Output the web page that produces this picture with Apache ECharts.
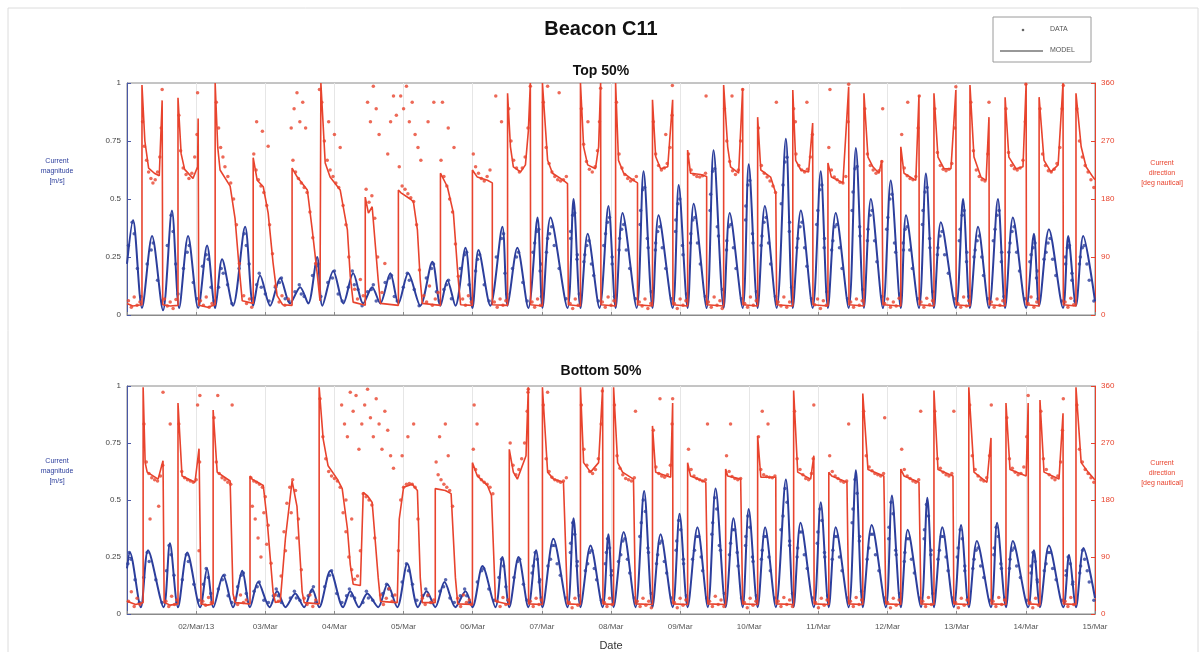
<!DOCTYPE html>
<html><head><meta charset="utf-8">
<script src="https://cdn.jsdelivr.net/npm/echarts@6/dist/echarts.min.js"></script>
<style>html,body{margin:0;padding:0;background:#fff}#c{width:1202px;height:652px}</style>
</head><body><div id="c"></div>
<script>
// x values are hours since 01/Mar/13 00:00
const dayLabels = ['', '02/Mar/13', '03/Mar', '04/Mar', '05/Mar', '06/Mar', '07/Mar', '08/Mar', '09/Mar', '10/Mar', '11/Mar', '12/Mar', '13/Mar', '14/Mar', '15/Mar'];
const magLabels = ['0', '0.25', '0.5', '0.75', '1'];
const dirLabels = ['0', '90', '180', '270', '360'];

// ---------- TOP 50% ----------
const topMagModel = [[0,0.22],[2.1,0.41],[5.2,0.03],[8.7,0.34],[12.5,0.02],[15.6,0.45],[18.1,0.03],[21.2,0.34],[24.7,0.03],[27.8,0.30],[30.6,0.03],[33,0.24],[36.8,0.04],[41,0.38],[43.8,0.04],[46.2,0.17],[49.7,0.04],[53.2,0.16],[56.6,0.05],[60.1,0.12],[62.9,0.05],[66,0.25],[67.8,0.04],[71.6,0.19],[75.1,0.05],[78.5,0.18],[82,0.05],[85.1,0.12],[87.9,0.05],[91.4,0.18],[94.2,0.05],[97.6,0.18],[101.8,0.04],[106,0.23],[108.8,0.04],[111.2,0.15],[114,0.04],[117.5,0.29],[119.9,0.03],[122,0.28],[126.1,0.04],[130.3,0.38],[132.1,0.04],[135.5,0.29],[139.3,0.03],[142.5,0.42],[144.2,0.03],[147,0.42],[152.9,0.03],[155,0.5],[157.4,0.03],[159.9,0.35],[164,0.03],[167.1,0.47],[169.6,0.03],[172,0.44],[176.9,0.03],[179.3,0.62],[182.4,0.03],[184.5,0.43],[189.4,0.03],[191.5,0.56],[194.6,0.03],[196.7,0.48],[201.2,0.03],[203.6,0.71],[207.1,0.03],[209.2,0.44],[213.7,0.03],[215.8,0.65],[218.9,0.03],[221.4,0.47],[225.5,0.03],[228.7,0.76],[231.1,0.03],[233.9,0.45],[238,0.03],[240.8,0.62],[243.3,0.03],[246,0.44],[250.5,0.03],[253,0.72],[255.8,0.03],[258.2,0.5],[262.4,0.03],[265.1,0.58],[268.6,0.03],[270.4,0.43],[274.9,0.03],[277.3,0.61],[280.1,0.03],[282.5,0.4],[287.7,0.03],[290.2,0.5],[292.6,0.03],[295.4,0.38],[299.2,0.03],[302.3,0.5],[304.8,0.03],[307.5,0.42],[312.1,0.03],[314.8,0.35],[316.6,0.04],[320,0.37],[324.9,0.03],[326.7,0.34],[329.4,0.04],[331.9,0.34],[336,0.06]];

const topMagData = [[0.5,0.3],[1.8,0.4],[2.5,0.35],[3.6,0.2],[4.8,0.08],[7,0.22],[8.4,0.28],[9.1,0.31],[10.6,0.15],[12.1,0.06],[14,0.3],[15.3,0.43],[16,0.36],[16.9,0.22],[17.7,0.09],[19.6,0.2],[20.9,0.27],[21.6,0.3],[23,0.14],[24.3,0.07],[26.2,0.21],[27.5,0.26],[28.2,0.24],[29.2,0.12],[30.2,0.06],[31.8,0.12],[32.7,0.2],[33.4,0.18],[34.9,0.13],[36.4,0.05],[38.9,0.2],[40.7,0.35],[41.4,0.3],[42.4,0.22],[43.4,0.07],[45,0.13],[45.9,0.18],[46.6,0.12],[48,0.09],[49.3,0.06],[51.5,0.12],[52.9,0.14],[53.6,0.16],[54.9,0.07],[56.2,0.06],[58.3,0.1],[59.8,0.13],[60.5,0.09],[61.5,0.08],[64.4,0.17],[65.7,0.21],[66.4,0.22],[67.3,0.08],[69.7,0.14],[71.3,0.16],[72,0.19],[73.3,0.09],[74.7,0.06],[76.8,0.12],[78.2,0.19],[78.9,0.13],[80.2,0.11],[81.6,0.04],[83.5,0.1],[84.8,0.11],[85.5,0.13],[86.5,0.06],[89.6,0.14],[91.1,0.16],[91.8,0.17],[92.8,0.08],[93.8,0.06],[95.9,0.12],[97.3,0.18],[98,0.15],[99.7,0.11],[101.4,0.04],[103.9,0.16],[105.7,0.2],[106.4,0.22],[107.4,0.1],[108.4,0.06],[110,0.11],[110.9,0.13],[111.6,0.15],[112.6,0.07],[115.7,0.2],[117.2,0.26],[117.9,0.27],[118.7,0.13],[119.5,0.07],[121,0.19],[121.7,0.24],[122.4,0.26],[124,0.13],[125.7,0.06],[128.2,0.25],[130,0.33],[130.7,0.35],[131.2,0.18],[131.8,0.09],[133.8,0.2],[135.2,0.25],[135.9,0.27],[137.4,0.14],[138.9,0.06],[140.9,0.27],[142.2,0.36],[142.9,0.37],[143.4,0.19],[143.9,0.08],[145.6,0.27],[146.7,0.35],[147.4,0.38],[150,0.2],[152.4,0.07],[154,0.33],[154.7,0.43],[155.4,0.44],[156.2,0.24],[157,0.09],[158.6,0.23],[159.6,0.3],[160.3,0.32],[162,0.17],[163.6,0.06],[165.5,0.3],[166.8,0.4],[167.5,0.42],[168.4,0.22],[169.2,0.08],[170.8,0.28],[171.7,0.37],[172.4,0.39],[174.5,0.2],[176.5,0.07],[178.1,0.39],[179,0.54],[179.7,0.55],[180.9,0.29],[182,0.1],[183.4,0.28],[184.2,0.36],[184.9,0.38],[187,0.2],[189,0.07],[190.4,0.36],[191.2,0.48],[191.9,0.5],[193,0.26],[194.2,0.09],[195.6,0.31],[196.4,0.41],[197.1,0.42],[199,0.22],[200.8,0.08],[202.4,0.45],[203.3,0.62],[204,0.63],[205.3,0.34],[206.7,0.11],[208.1,0.28],[208.9,0.38],[209.6,0.39],[211.4,0.2],[213.3,0.07],[214.7,0.41],[215.5,0.56],[216.2,0.58],[217.3,0.31],[218.5,0.1],[220.1,0.3],[221.1,0.4],[221.8,0.42],[223.4,0.22],[225.1,0.08],[227.1,0.48],[228.4,0.66],[229.1,0.68],[229.9,0.36],[230.7,0.12],[232.5,0.29],[233.6,0.38],[234.3,0.4],[236,0.21],[237.6,0.07],[239.4,0.39],[240.5,0.54],[241.2,0.56],[242,0.29],[242.9,0.1],[244.6,0.28],[245.7,0.38],[246.4,0.39],[248.2,0.2],[250.1,0.07],[251.7,0.45],[252.7,0.63],[253.4,0.64],[254.4,0.34],[255.4,0.11],[257,0.32],[257.9,0.43],[258.6,0.45],[260.3,0.23],[262,0.08],[263.7,0.37],[264.8,0.5],[265.5,0.52],[266.8,0.27],[268.2,0.09],[269.5,0.28],[270.1,0.37],[270.8,0.38],[272.6,0.2],[274.5,0.07],[276.1,0.39],[277,0.53],[277.7,0.55],[278.7,0.29],[279.7,0.1],[281.3,0.26],[282.2,0.34],[282.9,0.36],[285.1,0.18],[287.3,0.07],[288.9,0.32],[289.9,0.43],[290.6,0.45],[291.4,0.23],[292.2,0.08],[294,0.25],[295.1,0.32],[295.8,0.34],[297.3,0.17],[298.8,0.07],[300.7,0.32],[302,0.43],[302.7,0.45],[303.5,0.23],[304.4,0.08],[306.1,0.27],[307.2,0.36],[307.9,0.38],[309.8,0.19],[311.7,0.07],[313.4,0.23],[314.5,0.29],[315.2,0.31],[315.7,0.16],[316.2,0.07],[318.3,0.24],[319.7,0.31],[320.4,0.33],[322.4,0.17],[324.5,0.06],[325.8,0.22],[326.4,0.29],[327.1,0.3],[328,0.15],[329,0.06],[330.6,0.22],[331.6,0.29],[332.3,0.3],[334,0.15],[335.6,0.06],
[141.5,0.31],[143.8,0.22],[146,0.33],[148.3,0.3],[154,0.36],[156.3,0.26],[158.9,0.26],[161.2,0.22],[166.1,0.35],[168.4,0.25],[171,0.33],[173.3,0.28],[178.3,0.45],[180.6,0.33],[183.5,0.31],[185.8,0.29],[190.5,0.41],[192.8,0.3],[195.7,0.35],[198,0.31],[202.6,0.52],[204.9,0.38],[208.2,0.32],[210.5,0.29],[214.8,0.47],[217.1,0.35],[220.4,0.34],[222.7,0.31],[227.7,0.56],[230,0.4],[232.9,0.33],[235.2,0.29],[239.8,0.45],[242.1,0.33],[245,0.32],[247.3,0.29],[252,0.53],[254.3,0.38],[257.2,0.37],[259.5,0.32],[264.1,0.42],[266.4,0.31],[269.4,0.31],[271.7,0.28],[276.3,0.45],[278.6,0.33],[281.5,0.29],[283.8,0.26],[289.2,0.37],[291.5,0.27],[294.4,0.28],[296.7,0.25],[301.3,0.37],[303.6,0.27],[306.5,0.31],[308.8,0.27],[313.8,0.26],[316,0.19],[319,0.27],[321.3,0.24],[325.7,0.25],[328,0.18],[330.9,0.25],[333.2,0.22]];

const topDirModel = [[0,18],[2,14],[5.2,16],[5.2,357],[6.2,270],[7.5,228],[9.5,220],[11.2,216],[12.2,333],[12.4,16],[15,14],[17.7,15],[17.7,337],[18.8,250],[20,226],[22.9,212],[24.5,230],[24.7,305],[24.9,15],[28,12],[30.6,16],[30.6,360],[31.5,260],[32.3,225],[35.8,200],[37.5,150],[38.8,80],[40,22],[43.8,18],[43.8,244],[45.2,209],[47.3,199],[49,158],[50.7,81],[52.1,30],[54,16],[57.3,15],[57.3,228],[59.1,214],[62.6,194],[64.3,132],[66,65],[67,22],[67.3,360],[68.8,236],[70.5,214],[74,194],[76.5,132],[77.5,60],[78.5,20],[82.7,15],[82.7,183],[83.8,158],[85.1,168],[87.2,54],[88,18],[94.2,15],[94.2,194],[95,190],[98.3,180],[99.4,176],[100.8,132],[101.8,54],[102.5,18],[108.8,15],[108.8,220],[111.2,199],[113.3,158],[115,54],[115.8,16],[119.9,15],[119.9,225],[121.6,214],[125.1,209],[126.8,205],[126.8,16],[132.1,15],[132.1,344],[133.1,261],[134.1,230],[136.6,222],[138.3,233],[139.3,285],[140,360],[140.1,16],[144.2,14],[144.2,360],[146,240],[147.7,220],[151.5,209],[152.9,204],[153.2,16],[157.4,14],[157.4,360],[158.5,261],[159.9,233],[162.6,227],[163.7,261],[164.4,360],[164.5,16],[169.6,14],[169.6,360],[170.6,240],[172.4,220],[175.8,209],[177.2,205],[177.2,16],[182.4,14],[182.4,334],[183.5,246],[185.2,227],[187.7,230],[189.4,334],[189.5,16],[194.6,14],[194.6,256],[195.6,220],[199.1,218],[201.2,215],[201.2,16],[207.1,14],[207.1,357],[208.5,261],[209.5,230],[212.3,220],[213.7,352],[213.8,16],[218.9,14],[218.9,307],[220,225],[223.4,214],[225.2,189],[225.5,16],[231.1,14],[231.1,349],[232.1,240],[233.9,225],[236.6,222],[238,298],[238.1,16],[243.3,14],[243.3,236],[244.5,214],[248.5,205],[250.5,354],[250.6,16],[255.8,14],[255.8,344],[257.2,245],[258.9,230],[261,220],[262,240],[262.4,16],[268.6,14],[268.6,261],[269.7,220],[273.8,209],[274.9,341],[275,16],[280.1,14],[280.1,344],[281.5,245],[283.6,227],[286,227],[287.7,349],[287.8,16],[292.6,14],[292.6,357],[294,245],[296.4,214],[298.2,209],[299.2,307],[299.3,16],[304.8,14],[304.8,338],[306.1,245],[308.6,227],[311,230],[312.1,360],[312.2,16],[316.6,14],[316.6,338],[318.3,240],[320.7,222],[323.2,233],[324.9,360],[325,16],[329.4,14],[329.4,344],[331.2,261],[332.9,230],[335.3,214],[336,210]];

const topDirData = [[0.5,22],[1.5,12],[2.5,28],[3.5,15],[4.5,20],[5.4,300],[6,262],[6.8,240],[7.5,222],[8.3,212],[9,205],[9.8,210],[10.6,222],[11.4,245],[11.9,290],[13,25],[14,14],[15,20],[16,10],[17,24],[18,310],[18.6,255],[19.5,228],[20.5,218],[21.5,212],[22.5,220],[23.5,245],[24.3,280],[25.5,22],[26.5,15],[27.5,28],[28.5,12],[29.5,18],[31,330],[31.8,290],[32.5,260],[33.3,245],[34,230],[35,215],[36,205],[37,180],[38,140],[39,80],[40.5,30],[41.5,18],[42.5,25],[43.3,12],[44,250],[44.8,225],[45.6,210],[46.5,200],[47.5,190],[48.5,170],[49.5,140],[50.5,95],[51.5,45],[45,300],[47,285],[49,262],[52.8,20],[53.8,30],[54.8,15],[56,25],[57.6,240],[58.5,222],[59.5,212],[60.5,205],[61.5,198],[62.5,190],[63.5,160],[64.5,120],[65.5,80],[58,320],[59,345],[60,300],[61,330],[62,290],[67.6,330],[68.5,270],[69.5,240],[70.5,225],[71.5,215],[72.5,205],[73.5,198],[75,170],[76,140],[77,90],[70,300],[72,280],[74,260],[79,40],[80,25],[81,55],[82,30],[83,195],[84,175],[85,185],[86,150],[87,90],[83.5,330],[84.5,300],[85.5,355],[86.5,320],[87.5,280],[88.5,35],[89.5,80],[90.5,250],[91.5,300],[92.5,340],[93.5,310],[94.5,230],[95.5,200],[96.5,195],[97.5,188],[98.5,182],[99.5,176],[100.5,140],[101.5,70],[95,340],[96,320],[97,355],[98,300],[99,330],[100,280],[101,260],[102,240],[103,30],[104,20],[105,45],[106,15],[107,25],[108,35],[104.5,300],[106.5,330],[109,240],[110,215],[111,200],[112,180],[113,160],[114,110],[115,60],[109.5,330],[111.5,290],[113.5,260],[116.5,25],[117.5,15],[118.5,30],[119.5,20],[120.2,250],[121,230],[122,220],[123,212],[124,208],[125,215],[126,225],[127.5,20],[128.5,12],[129.5,25],[130.5,15],[131.5,22],[128,340],[130,300],[132.5,320],[133.3,270],[134.2,240],[135.2,228],[136.2,222],[137.2,228],[138.2,245],[139.2,290],[140.6,20],[141.5,12],[142.5,25],[143.5,15],[144.5,330],[145.5,260],[146.5,235],[147.5,222],[148.5,215],[149.5,210],[150.5,208],[151.5,210],[152.5,215],[146,355],[150,345],[153.8,18],[154.7,10],[155.6,25],[156.6,15],[157.7,320],[158.5,265],[159.5,238],[160.5,226],[161.5,222],[162.5,230],[163.3,255],[164,300],[165,20],[166,12],[167,28],[168,15],[169,22],[169.9,330],[170.8,250],[171.8,228],[172.8,218],[173.8,212],[174.8,208],[175.8,210],[176.8,215],[177.8,20],[178.8,14],[179.8,25],[180.8,10],[181.8,18],[182.7,300],[183.5,250],[184.5,232],[185.5,225],[186.5,228],[187.5,235],[188.5,260],[189.2,310],[190,18],[191,10],[192,25],[193,15],[194,22],[194.9,250],[195.8,225],[196.8,218],[197.8,215],[198.8,214],[199.8,216],[200.8,220],[201.8,20],[202.8,12],[203.8,28],[204.8,15],[205.8,22],[206.6,10],[207.4,320],[208.2,270],[209.2,238],[210.2,224],[211.2,218],[212.2,225],[213,270],[210,340],[214.4,18],[215.4,12],[216.4,28],[217.4,15],[218.4,22],[219.2,290],[220.2,232],[221.2,220],[222.2,214],[223.2,208],[224.2,200],[225.1,190],[226,20],[227,14],[228,28],[229,12],[230,20],[231.4,320],[232.2,250],[233.2,232],[234.2,225],[235.2,222],[236.2,226],[237.2,245],[237.9,280],[236,330],[238.7,16],[239.7,25],[240.7,10],[241.7,22],[242.7,15],[243.6,260],[244.5,225],[245.5,214],[246.5,210],[247.5,206],[248.5,205],[249.5,215],[250.3,300],[244,350],[251.2,20],[252.2,12],[253.2,25],[254.2,15],[255.2,22],[256.1,320],[257,250],[258,232],[259,225],[260,220],[261,224],[262,238],[263,18],[264,25],[265,12],[266,20],[267,14],[268,26],[268.9,280],[269.8,228],[270.8,216],[271.8,212],[272.8,210],[273.8,215],[274.6,290],[271,330],[275.6,20],[276.6,12],[277.6,26],[278.6,16],[279.6,22],[280.4,320],[281.3,252],[282.3,232],[283.3,226],[284.3,224],[285.3,226],[286.3,235],[287.3,290],[288.4,18],[289.4,12],[290.4,28],[291.4,14],[292.2,22],[292.9,330],[293.8,255],[294.8,225],[295.8,215],[296.8,210],[297.8,208],[298.8,250],[300,20],[301,12],[302,25],[303,15],[304,22],[305.1,320],[306,252],[307,232],[308,227],[309,225],[310,228],[311,240],[311.8,300],[312.8,18],[313.8,28],[314.8,12],[315.8,20],[316.9,320],[317.8,250],[318.8,232],[319.8,224],[320.8,222],[321.8,226],[322.8,235],[323.8,260],[324.6,320],[325.6,20],[326.6,12],[327.6,26],[328.6,16],[329.7,320],[330.6,270],[331.6,245],[332.6,232],[333.6,222],[334.6,210],[335.6,198],[12.2,350],[24.5,345],[66.8,350],[140,355],[164.4,352],[189.3,356],[213.7,350],[250.5,358],[287.7,354],[312,358],[325,356],[201,340],[225.4,330],[262.3,320],[275,340],[299.2,330],[57,290],[160,300],[187,280],[232,300]];

// ---------- BOTTOM 50% ----------
const botMagModel = [[0,0.2],[1,0.27],[4.8,0.03],[7.3,0.28],[12.7,0.03],[14.9,0.31],[17.7,0.03],[20.9,0.27],[25.4,0.03],[27.8,0.2],[30,0.03],[33.4,0.17],[36.8,0.03],[40,0.19],[42.7,0.03],[45.5,0.14],[49.5,0.03],[52.1,0.1],[55,0.03],[58.4,0.09],[61.5,0.03],[64.3,0.11],[66.7,0.03],[70.6,0.19],[75,0.03],[77.5,0.1],[80.5,0.03],[83.4,0.09],[87.2,0.03],[90.4,0.13],[93.8,0.03],[97.3,0.22],[101,0.03],[104,0.1],[107,0.03],[110.2,0.14],[114,0.03],[117.5,0.1],[119.9,0.03],[123.4,0.21],[127.9,0.03],[130.3,0.25],[132.7,0.03],[135.9,0.25],[139.3,0.03],[142,0.28],[144.2,0.03],[148,0.33],[152.9,0.03],[155,0.42],[157.4,0.03],[160.9,0.3],[165.1,0.03],[167.1,0.35],[168.9,0.03],[172.4,0.36],[176.5,0.03],[179.5,0.54],[182.4,0.03],[185.2,0.35],[189.4,0.03],[191.8,0.44],[194.6,0.03],[198,0.38],[201.6,0.03],[204.3,0.55],[207.8,0.03],[210.5,0.42],[213.7,0.03],[215.8,0.46],[218.9,0.03],[221.5,0.38],[225.2,0.03],[228.7,0.59],[231.4,0.03],[233.8,0.4],[238.4,0.03],[240.8,0.49],[243.6,0.03],[246,0.38],[250.5,0.03],[253,0.63],[255.4,0.03],[258.5,0.39],[263.4,0.03],[265.5,0.52],[268.6,0.03],[271,0.37],[275.6,0.03],[277.8,0.51],[280.1,0.03],[283,0.38],[287,0.03],[289.5,0.39],[292.2,0.03],[295,0.32],[299.9,0.03],[302,0.4],[305.1,0.03],[307.5,0.32],[312.8,0.03],[314.8,0.28],[316.9,0.03],[320,0.3],[325,0.03],[327,0.26],[329.4,0.03],[332,0.29],[336,0.07]];

const botMagData = [[0.3,0.22],[0.8,0.27],[1.4,0.24],[2.8,0.15],[4.3,0.05],[5.8,0.16],[7,0.27],[7.7,0.23],[10,0.15],[12.2,0.05],[13.7,0.19],[14.6,0.3],[15.3,0.26],[16.3,0.17],[17.3,0.05],[19.2,0.15],[20.6,0.26],[21.3,0.23],[23.2,0.13],[25,0.06],[26.5,0.13],[27.5,0.2],[28.2,0.16],[29.1,0.09],[31.7,0.11],[33.1,0.15],[33.8,0.17],[35.1,0.08],[36.4,0.05],[38.4,0.12],[39.7,0.17],[40.4,0.18],[41.4,0.09],[44.1,0.1],[45.2,0.12],[45.9,0.14],[47.5,0.06],[49.1,0.05],[50.8,0.08],[51.8,0.11],[52.5,0.08],[53.6,0.05],[56.7,0.07],[58.1,0.1],[58.8,0.07],[60,0.06],[62.9,0.08],[64,0.1],[64.7,0.12],[65.5,0.05],[68.6,0.12],[70.3,0.17],[71,0.19],[72.8,0.09],[74.6,0.05],[76.2,0.08],[77.2,0.11],[77.9,0.08],[79,0.07],[81.9,0.05],[83.1,0.1],[83.8,0.07],[85.3,0.06],[88.8,0.09],[90.1,0.13],[90.8,0.11],[92.1,0.08],[95.5,0.14],[97,0.22],[97.7,0.19],[99.1,0.13],[100.6,0.06],[102.5,0.08],[103.7,0.11],[104.4,0.08],[105.5,0.05],[108.6,0.1],[109.9,0.12],[110.6,0.15],[112.1,0.07],[113.6,0.05],[115.7,0.08],[117.2,0.11],[117.9,0.08],[118.7,0.05],[121.6,0.14],[123.1,0.19],[123.8,0.2],[125.6,0.11],[127.5,0.06],[129.1,0.16],[130,0.24],[130.7,0.21],[131.5,0.12],[132.3,0.06],[134.3,0.16],[135.6,0.23],[136.3,0.24],[137.6,0.13],[138.9,0.06],[140.6,0.18],[141.7,0.27],[142.4,0.24],[143.1,0.14],[143.8,0.07],[146.1,0.21],[147.7,0.3],[148.4,0.3],[150.4,0.17],[152.5,0.07],[153.9,0.27],[154.7,0.4],[155.4,0.35],[156.2,0.21],[157,0.08],[159.1,0.19],[160.6,0.27],[161.3,0.28],[163,0.15],[164.7,0.06],[166,0.22],[166.8,0.33],[167.5,0.29],[168.1,0.17],[170.6,0.23],[172.1,0.32],[172.8,0.33],[174.5,0.18],[176.1,0.07],[178,0.34],[179.2,0.5],[179.9,0.45],[181,0.27],[182,0.09],[183.8,0.22],[184.9,0.31],[185.6,0.32],[187.3,0.18],[189,0.07],[190.6,0.28],[191.5,0.41],[192.2,0.37],[193.2,0.22],[194.2,0.08],[196.3,0.24],[197.7,0.34],[198.4,0.34],[199.8,0.19],[201.2,0.07],[203,0.35],[204,0.51],[204.7,0.46],[206,0.28],[207.4,0.09],[209.1,0.26],[210.2,0.37],[210.9,0.37],[212.1,0.21],[213.3,0.07],[214.7,0.3],[215.5,0.43],[216.2,0.38],[217.3,0.23],[218.5,0.08],[220.2,0.24],[221.2,0.34],[221.9,0.34],[223.3,0.19],[224.8,0.07],[227,0.37],[228.4,0.55],[229.1,0.49],[230,0.3],[231,0.09],[232.6,0.25],[233.5,0.36],[234.2,0.36],[236.1,0.2],[238,0.07],[239.6,0.31],[240.5,0.46],[241.2,0.41],[242.2,0.25],[243.2,0.08],[244.8,0.24],[245.7,0.34],[246.4,0.34],[248.2,0.19],[250.1,0.07],[251.7,0.4],[252.7,0.59],[253.4,0.53],[254.2,0.32],[255,0.1],[256.9,0.24],[258.2,0.35],[258.9,0.35],[261,0.19],[263,0.07],[264.4,0.33],[265.2,0.49],[265.9,0.44],[267,0.26],[268.2,0.09],[269.8,0.23],[270.7,0.33],[271.4,0.33],[273.3,0.18],[275.2,0.07],[276.7,0.33],[277.5,0.48],[278.2,0.43],[279,0.26],[279.7,0.09],[281.5,0.24],[282.7,0.34],[283.4,0.34],[285,0.19],[286.6,0.07],[288.2,0.25],[289.2,0.37],[289.9,0.33],[290.8,0.19],[291.8,0.07],[293.6,0.2],[294.7,0.28],[295.4,0.29],[297.4,0.16],[299.5,0.06],[300.9,0.26],[301.7,0.38],[302.4,0.34],[303.5,0.2],[304.7,0.07],[306.3,0.2],[307.2,0.28],[307.9,0.29],[310.1,0.16],[312.4,0.06],[313.8,0.18],[314.5,0.27],[315.2,0.23],[316,0.14],[318.4,0.19],[319.7,0.27],[320.4,0.27],[322.5,0.15],[324.6,0.06],[326,0.17],[326.7,0.25],[327.4,0.22],[328.2,0.13],[330.7,0.18],[331.7,0.28],[332.4,0.24],[334,0.14],[335.6,0.06],
[141,0.21],[143.3,0.15],[147,0.24],[149.3,0.22],[154,0.31],[156.3,0.23],[159.9,0.22],[162.2,0.2],[166.4,0.27],[168.3,0.19],[171.4,0.26],[173.7,0.24],[178.5,0.4],[180.8,0.29],[184.2,0.26],[186.5,0.23],[190.8,0.32],[193.1,0.24],[197,0.28],[199.3,0.25],[203.3,0.4],[205.6,0.3],[209.5,0.31],[211.8,0.27],[214.8,0.34],[217.1,0.25],[220.5,0.28],[222.8,0.25],[227.7,0.43],[230,0.32],[232.8,0.29],[235.1,0.26],[239.8,0.36],[242.1,0.27],[245,0.28],[247.3,0.25],[252,0.46],[254.3,0.34],[257.5,0.29],[259.8,0.26],[264.5,0.38],[266.8,0.28],[270,0.27],[272.3,0.24],[276.8,0.37],[279.1,0.28],[282,0.28],[284.3,0.25],[288.5,0.29],[290.8,0.21],[294,0.24],[296.3,0.21],[301,0.29],[303.3,0.22],[306.5,0.24],[308.8,0.21],[313.8,0.21],[315.9,0.15],[319,0.22],[321.3,0.2],[326,0.19],[328.3,0.14],[331,0.21],[333.3,0.19]];

const botDirModel = [[0,20],[3,15],[5.6,18],[5.6,358],[6.3,239],[7,224],[10.8,213],[12.5,242],[12.9,18],[15,14],[17.7,16],[17.7,333],[19.1,218],[23.6,208],[25,261],[25.7,16],[28,14],[29.9,16],[29.9,322],[31.3,224],[35.8,210],[36.8,32],[37.5,18],[42.7,16],[42.7,218],[43.4,213],[47.3,203],[48.6,150],[50.7,35],[51.5,18],[53.2,20],[55,120],[57.3,210],[59,170],[60.8,35],[61.5,18],[66.7,16],[66.7,358],[68.1,276],[69.8,234],[73,213],[74.7,198],[76.5,135],[77.5,78],[78.5,47],[81,45],[82,192],[83.4,187],[85.1,176],[87.2,57],[88,20],[93.8,18],[94.5,150],[96,200],[99,205],[100.8,195],[101.8,57],[102.5,18],[107,18],[107,198],[110.5,195],[112.5,190],[114,57],[114.8,16],[119.9,15],[119.9,239],[121.6,218],[125.1,203],[126.5,187],[127.9,20],[132.7,15],[132.7,260],[134.1,224],[135.5,213],[138.5,250],[139.3,358],[139.4,16],[144.2,15],[144.2,358],[146,224],[148,213],[151.5,208],[152.9,16],[157.4,15],[157.4,358],[158.5,239],[160.9,224],[163.7,239],[165.1,358],[165.2,16],[168.9,15],[168.9,358],[170.3,239],[172,224],[175.8,213],[176.5,16],[182.4,15],[182.4,297],[183.5,224],[188.7,216],[189.4,333],[189.5,16],[194.6,15],[194.6,239],[195.6,218],[200.9,208],[201.6,16],[207.8,15],[207.8,229],[208.5,218],[213,213],[213.7,16],[218.9,15],[218.9,281],[220,216],[225.2,216],[225.3,16],[231.4,15],[231.4,353],[232.8,224],[237.3,213],[238.4,250],[238.5,16],[243.6,15],[243.6,224],[244.6,218],[249.9,208],[250.5,16],[255.4,15],[255.4,348],[257.2,228],[262.7,218],[263.4,16],[268.6,15],[268.6,229],[269.7,218],[274.9,208],[275.6,16],[280.1,15],[280.1,353],[281.5,228],[286.7,218],[287,16],[292.2,15],[292.2,358],[294,224],[298.5,208],[299.9,278],[300,16],[305.1,15],[305.1,333],[306.5,228],[312.1,218],[312.8,333],[312.9,16],[316.9,15],[316.9,338],[318.3,224],[323.5,213],[324.9,317],[325,16],[329.4,15],[329.4,358],[331.2,239],[333.6,224],[335.7,213],[336,212]];

const botDirData = [[0.5,20],[1.5,35],[2.5,12],[3.5,25],[4.5,15],[5.9,300],[6.7,240],[7.6,222],[8.6,215],[9.6,212],[10.6,210],[11.6,218],[12.4,235],[8,150],[11,170],[13.5,20],[14.5,12],[15.5,28],[16.5,15],[17.3,22],[18,300],[19,225],[20,215],[21,212],[22,210],[23,208],[24,212],[25.2,240],[24.5,330],[25,100],[26.3,20],[27.3,14],[28.3,26],[29.3,18],[30.2,310],[31,240],[32,222],[33,215],[34,212],[35,208],[36,205],[31.5,345],[37.4,25],[38.4,15],[39.4,30],[40.4,18],[41.4,22],[43,215],[44,210],[45,208],[46,205],[47,200],[48,185],[49,140],[50,80],[43.5,170],[44.5,150],[45.5,120],[46.5,90],[47.5,160],[48.5,110],[51.5,30],[52.5,20],[53.5,60],[54.5,130],[55.5,175],[56.5,200],[57.5,212],[58.5,195],[59.5,150],[60.5,70],[55,100],[57,160],[59,120],[61.5,25],[62.5,15],[63.5,30],[64.5,12],[65.5,22],[67,340],[68,280],[69,245],[70,225],[71,218],[72,214],[73,210],[74,200],[75,160],[76,130],[77,90],[78,70],[79,55],[80,60],[81,100],[82,190],[83,185],[84,180],[85,172],[86,120],[74.5,330],[75.5,300],[76.5,280],[77.5,350],[78.5,320],[79.5,345],[80.5,260],[81.5,300],[82.5,330],[83.5,355],[84.5,310],[85.5,280],[86.5,340],[87.5,300],[88.5,260],[89.5,320],[90.5,290],[91.5,250],[92.5,230],[76,180],[78,150],[88,30],[89,15],[90,25],[91,40],[92,20],[93,30],[94.2,100],[95,180],[96,200],[97,205],[98,206],[99,205],[100,200],[101,150],[95.5,250],[97.5,280],[99.5,300],[102.5,25],[103.5,15],[104.5,30],[105.5,18],[106.5,22],[107.3,240],[108,220],[109,212],[110,205],[111,200],[112,195],[113,170],[108.5,280],[110.5,300],[111.5,250],[114.8,25],[115.8,12],[116.8,30],[117.8,18],[118.8,22],[119.5,15],[120.2,260],[121,228],[122,218],[123,212],[124,208],[125,205],[126,200],[127,190],[120.5,330],[121.5,300],[128.5,20],[129.5,12],[130.5,26],[131.5,15],[132.3,22],[133,270],[134,235],[135,220],[136,228],[137,245],[138,270],[138.9,320],[139.2,350],[140,20],[141,12],[142,25],[143,15],[143.8,22],[144.5,330],[145.5,245],[146.5,225],[147.5,216],[148.5,212],[149.5,210],[150.5,208],[151.5,210],[152.5,215],[146,350],[153.5,18],[154.5,10],[155.5,25],[156.5,14],[157.7,330],[158.6,260],[159.6,235],[160.6,225],[161.6,222],[162.6,228],[163.6,245],[164.6,300],[165.7,18],[166.6,12],[167.5,25],[168.4,15],[169.2,330],[170.1,250],[171.1,230],[172.1,220],[173.1,214],[174.1,212],[175.1,210],[176.1,215],[177.1,20],[178.1,12],[179.1,25],[180.1,14],[181.1,20],[182,10],[182.7,290],[183.6,232],[184.6,222],[185.6,218],[186.6,216],[187.6,220],[188.6,235],[189.2,300],[185,340],[190,18],[191,10],[192,25],[193,14],[194,22],[194.9,260],[195.8,228],[196.8,218],[197.8,214],[198.8,212],[199.8,210],[200.8,212],[202.2,20],[203.2,12],[204.2,28],[205.2,15],[206.2,22],[207.2,12],[208.1,250],[209,225],[210,217],[211,214],[212,212],[213,214],[209.5,300],[214.3,18],[215.3,10],[216.3,25],[217.3,14],[218.3,20],[219.2,280],[220,228],[221,220],[222,217],[223,216],[224,215],[224.9,218],[220.5,320],[222.5,300],[226,20],[227,12],[228,26],[229,15],[230,22],[231,12],[231.7,320],[232.6,245],[233.6,228],[234.6,220],[235.6,214],[236.6,212],[237.6,222],[238.2,245],[239,18],[240,10],[241,25],[242,14],[243,22],[243.9,250],[244.8,225],[245.8,218],[246.8,214],[247.8,210],[248.8,208],[249.8,210],[251.1,20],[252.1,12],[253.1,26],[254.1,15],[255,22],[255.7,320],[256.6,250],[257.6,232],[258.6,226],[259.6,222],[260.6,220],[261.6,218],[262.6,222],[264,18],[265,10],[266,25],[267,14],[268,22],[268.9,260],[269.8,228],[270.8,218],[271.8,214],[272.8,210],[273.8,208],[274.8,212],[276.2,20],[277.2,12],[278.2,26],[279.2,15],[280.4,320],[281.3,245],[282.3,230],[283.3,224],[284.3,220],[285.3,218],[286.3,222],[287.6,18],[288.6,10],[289.6,25],[290.6,14],[291.6,22],[292.5,330],[293.4,250],[294.4,228],[295.4,218],[296.4,212],[297.4,210],[298.4,215],[299.4,250],[300.6,20],[301.6,12],[302.6,26],[303.6,15],[304.6,22],[305.4,310],[306.3,245],[307.3,230],[308.3,224],[309.3,220],[310.3,222],[311.3,232],[312.3,280],[313.4,18],[314.4,10],[315.4,25],[316.4,14],[317.2,320],[318.1,245],[319.1,228],[320.1,220],[321.1,215],[322.1,212],[323.1,218],[324.1,240],[324.7,290],[325.6,20],[326.6,12],[327.6,26],[328.6,15],[329.7,330],[330.6,260],[331.6,240],[332.6,228],[333.6,222],[334.6,215],[335.6,208],[12.5,350],[25.3,345],[36.5,330],[139.3,355],[165,352],[189.4,340],[238.4,330],[287,320],[300,330],[312.8,345],[325,340],[15,300],[176.5,320],[201.5,300],[250.5,300],[263,310],[275.5,320]];

const RED = '#e8432d', BLUE = '#2c3e9c';
const FONT = '"Liberation Sans", Arial, Helvetica, sans-serif';

function xAx(gi, showLabels) {
  return {type: 'value', gridIndex: gi, min: 0, max: 336, interval: 24,
    axisLine: {show: true, onZero: false, lineStyle: {color: '#8a8a8a'}},
    axisTick: {show: true, inside: true, length: 3, lineStyle: {color: '#8a8a8a'}},
    axisLabel: {show: showLabels, fontSize: 8, color: '#555', margin: 9, fontFamily: FONT,
      formatter: v => dayLabels[Math.round(v / 24)] || ''},
    splitLine: {show: true, lineStyle: {color: '#e6e6e6', width: 1}},
    name: showLabels ? 'Date' : '', nameLocation: 'middle', nameGap: 26,
    nameTextStyle: {fontSize: 11, color: '#333', fontFamily: FONT}};
}
function yL(gi) {
  return {type: 'value', gridIndex: gi, min: 0, max: 1, interval: 0.25, position: 'left',
    axisLine: {show: true, lineStyle: {color: '#4a58a6'}},
    axisTick: {show: true, inside: true, length: 4, lineStyle: {color: '#4a58a6'}},
    axisLabel: {fontSize: 8, color: '#444', margin: 6, fontFamily: FONT, formatter: v => magLabels[Math.round(v * 4)]},
    splitLine: {show: false}};
}
function yR(gi) {
  return {type: 'value', gridIndex: gi, min: 0, max: 360, interval: 90, position: 'right',
    axisLine: {show: true, lineStyle: {color: RED}},
    axisTick: {show: true, inside: true, length: 4, lineStyle: {color: RED}},
    axisLabel: {fontSize: 8, color: RED, margin: 6, fontFamily: FONT, formatter: v => dirLabels[Math.round(v / 90)]},
    splitLine: {show: false}};
}
function panelSeries(gi, magData, magModel, dirData, dirModel) {
  const yl = gi * 2, yr = gi * 2 + 1;
  return [
    {type: 'scatter', xAxisIndex: gi, yAxisIndex: yl, data: magData, symbolSize: 3.5, itemStyle: {color: BLUE}, z: 2},
    {type: 'line', xAxisIndex: gi, yAxisIndex: yl, data: magModel, showSymbol: false, smooth: 0.3, lineStyle: {color: BLUE, width: 2}, z: 3},
    {type: 'scatter', xAxisIndex: gi, yAxisIndex: yr, data: dirData, symbolSize: 3.5, itemStyle: {color: RED}, z: 4},
    {type: 'line', xAxisIndex: gi, yAxisIndex: yr, data: dirModel, showSymbol: false, smooth: false, lineStyle: {color: RED, width: 1.6}, z: 5}
  ];
}

const chart = echarts.init(document.getElementById('c'), null, {renderer: 'canvas'});
const leftName = 'Current\nmagnitude\n[m/s]';
const rightName = 'Current\ndirection\n[deg nautical]';

chart.setOption({
  animation: false,
  backgroundColor: '#fff',
  title: [
    {text: 'Beacon C11', left: 'center', top: 14, textStyle: {fontSize: 20, fontWeight: 'bold', color: '#111', fontFamily: FONT}},
    {text: 'Top 50%', left: 'center', top: 59, textStyle: {fontSize: 14, fontWeight: 'bold', color: '#111', fontFamily: FONT}},
    {text: 'Bottom 50%', left: 'center', top: 359, textStyle: {fontSize: 14, fontWeight: 'bold', color: '#111', fontFamily: FONT}}
  ],
  grid: [
    {left: 127, right: 107, top: 83, height: 232, show: true, borderColor: '#8a8a8a', borderWidth: 1},
    {left: 127, right: 107, top: 386, height: 231, show: true, borderColor: '#8a8a8a', borderWidth: 1}
  ],
  xAxis: [xAx(0, false), xAx(1, true)],
  yAxis: [yL(0), yR(0), yL(1), yR(1)],
  series: [].concat(
    panelSeries(0, topMagData, topMagModel, topDirData, topDirModel),
    panelSeries(1, botMagData, botMagModel, botDirData, botDirModel)
  ),
  graphic: [
    {type: 'rect', shape: {x: 8, y: 8, width: 1190, height: 700}, style: {fill: 'none', stroke: '#dcdcdc', lineWidth: 1}, silent: true},
    {type: 'rect', shape: {x: 993, y: 17, width: 98, height: 45}, style: {fill: '#fff', stroke: '#9a9a9a', lineWidth: 1}},
    {type: 'circle', shape: {cx: 1023, cy: 30, r: 1.3}, style: {fill: '#666'}},
    {type: 'text', left: 1050, top: 26, style: {text: 'DATA', fill: '#555', font: '7px ' + FONT}},
    {type: 'line', shape: {x1: 1000, y1: 51, x2: 1043, y2: 51}, style: {stroke: '#333', lineWidth: 1.2}},
    {type: 'text', left: 1050, top: 47, style: {text: 'MODEL', fill: '#555', font: '7px ' + FONT}},
    {type: 'text', x: 57, y: 156, style: {text: leftName, fill: BLUE, font: '7px ' + FONT, textAlign: 'center', lineHeight: 10}},
    {type: 'text', x: 57, y: 456, style: {text: leftName, fill: BLUE, font: '7px ' + FONT, textAlign: 'center', lineHeight: 10}},
    {type: 'text', x: 1162, y: 158, style: {text: rightName, fill: RED, font: '7px ' + FONT, textAlign: 'center', lineHeight: 10}},
    {type: 'text', x: 1162, y: 458, style: {text: rightName, fill: RED, font: '7px ' + FONT, textAlign: 'center', lineHeight: 10}}
  ]
});
</script>
</body></html>
